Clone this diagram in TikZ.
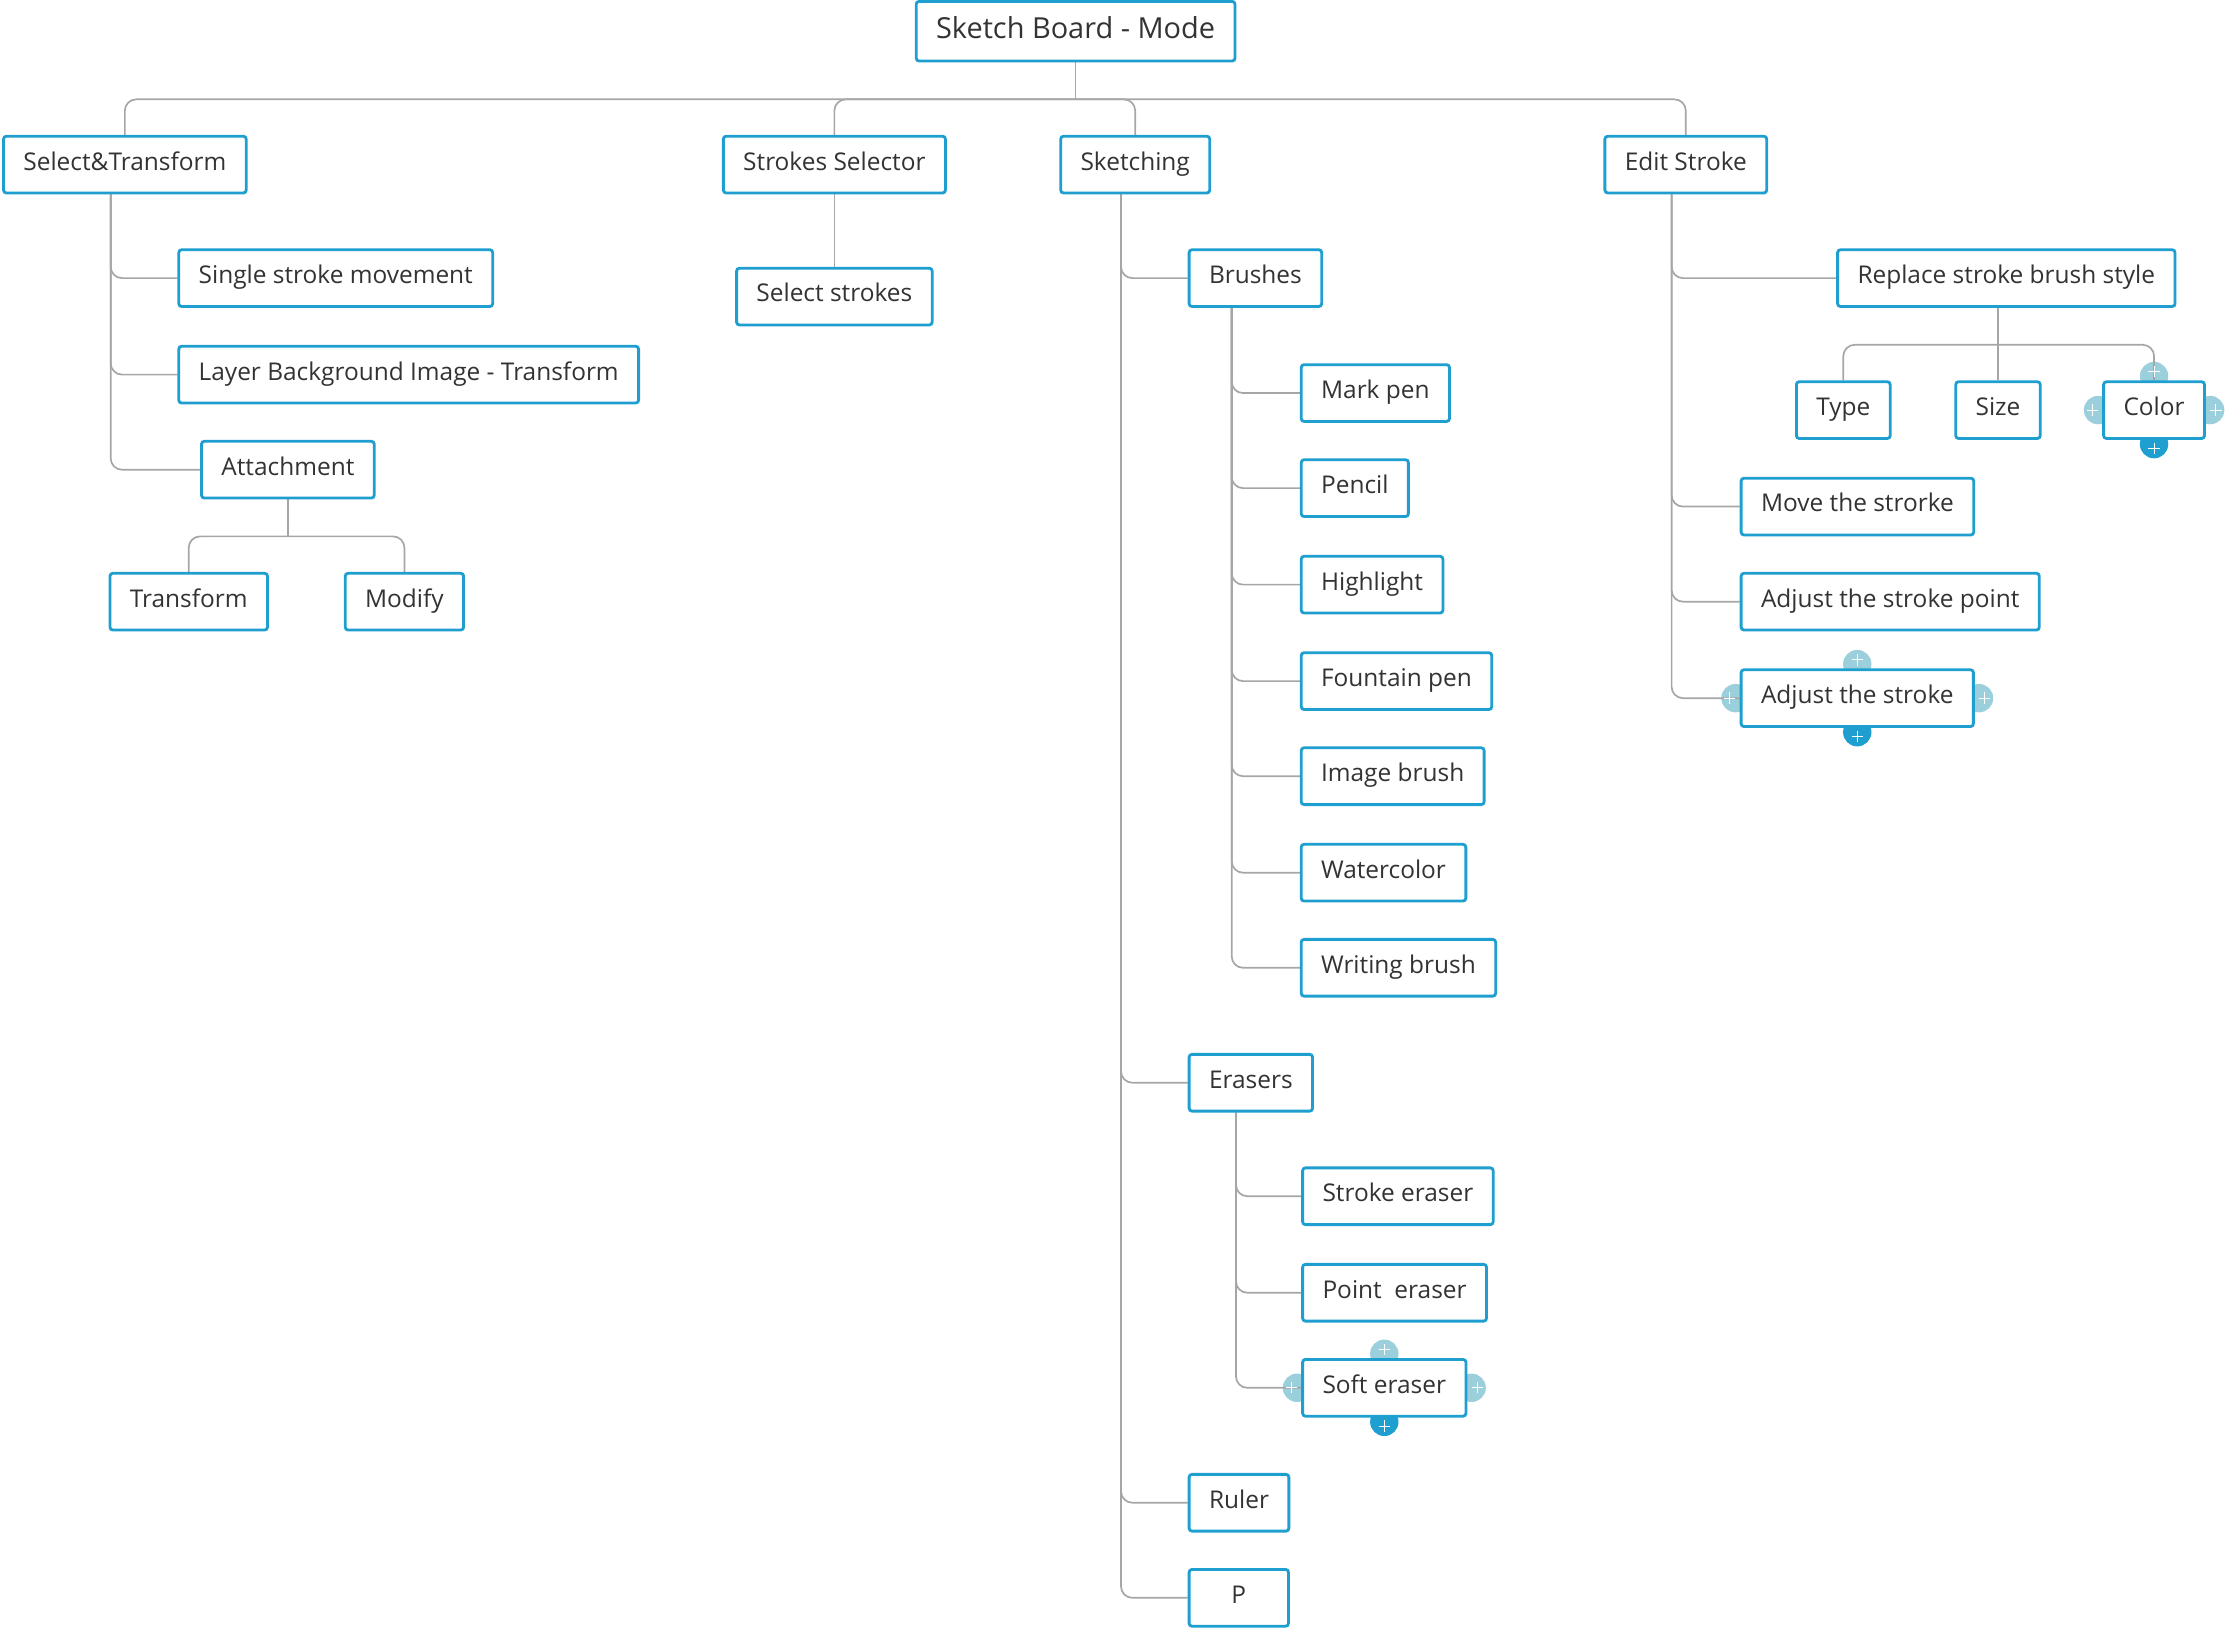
\documentclass[tikz,border=0pt]{standalone}
\usepackage{fontspec}
\setmainfont{Open Sans}
\usetikzlibrary{positioning}
\usetikzlibrary{backgrounds}
\definecolor{boxblue}{HTML}{1E9FD0}
\definecolor{pluslight}{HTML}{9ACFDB}
\definecolor{linegray}{HTML}{A6A6A6}
\newcommand{\plusmark}[1]{%
  \begin{scope}[on background layer]
    \fill[pluslight] (#1.north) ++(0,-3) circle (10);
    \fill[pluslight] (#1.west) ++(-3,0) circle (10);
    \fill[pluslight] (#1.east) ++(3,0) circle (10);
    \fill[boxblue] (#1.south) ++(0,3) circle (10);
  \end{scope}
  \draw[white, thick] (#1.north) ++(-4,-6) -- ++(8,0) ++(-4,-4) -- ++(0,8);
  \draw[white, thick] (#1.west) ++(-11,0) -- ++(8,0) ++(-4,-4) -- ++(0,8);
  \draw[white, thick] (#1.east) ++(3,0) -- ++(8,0) ++(-4,-4) -- ++(0,8);
  \draw[white, thick] (#1.south) ++(-4,6) -- ++(8,0) ++(-4,-4) -- ++(0,8);
}
\begin{document}
\begin{tikzpicture}[x=0.5mm, y=-0.5mm,
        box/.style = {draw=boxblue, line width=1mm, rounded corners=1mm, fill=white,
            minimum height=20mm, inner xsep=7mm, text height=6mm, text depth=2.2mm,
            font=\fontsize{24.5}{28}\selectfont, text=black!80},
        kid/.style = {box, anchor=west},
        link/.style = {draw=linegray, line width=0.6mm, rounded corners=4mm}]
    \useasboundingbox (0,0) rectangle (1568,1148);
    % top level
    \node[box, font=\fontsize{29}{33}\selectfont, minimum height=21mm, text height=7.2mm, text depth=2.4mm] (mode) at (758,22) {Sketch Board - Mode};
    \node[box] (select) at (88,116) {Select\&Transform};
    \node[box] (strokes) at (588,116) {Strokes Selector};
    \node[box] (sketch) at (800,116) {Sketching};
    \node[box] (edit) at (1188,116) {Edit Stroke};
    % select & transform
    \node[kid] (single) at (125,196) {Single stroke movement};
    \node[kid] (layer) at (125,264) {Layer Background Image - Transform};
    \node[kid] (attach) at (141,331) {Attachment};
    \node[box] (transf) at (133,424) {Transform};
    \node[box] (modify) at (285,424) {Modify};
    % strokes selector
    \node[box] (selstrokes) at (588,209) {Select strokes};
    % sketching
    \node[kid] (brushes) at (837,196) {Brushes};
    \node[kid] (erasers) at (837,763) {Erasers};
    \node[kid, minimum width=35mm] (ruler) at (837,1059) {Ruler};
    \node[kid, minimum width=35mm] (p) at (837,1126) {P};
    \node[kid] (mark) at (916,277) {Mark pen};
    \node[kid] (pencil) at (916,344) {Pencil};
    \node[kid] (highlight) at (916,412) {Highlight};
    \node[kid] (fountain) at (916,480) {Fountain pen};
    \node[kid] (image) at (916,547) {Image brush};
    \node[kid] (water) at (916,615) {Watercolor};
    \node[kid] (writing) at (916,682) {Writing brush};
    \node[kid] (strokeer) at (917,843) {Stroke eraser};
    \node[kid] (pointer) at (917,911) {Point\ \ eraser};
    \node[kid] (softer) at (917,978) {Soft eraser};
    % edit stroke
    \node[kid] (replace) at (1294,196) {Replace stroke brush style};
    \node[box] (type) at (1299,289) {Type};
    \node[box] (size) at (1408,289) {Size};
    \node[box] (color) at (1518,289) {Color};
    \node[kid] (move) at (1226,357) {Move the strorke};
    \node[kid] (adjpoint) at (1226,424) {Adjust the stroke point};
    \node[kid] (adjust) at (1226,492) {Adjust the stroke};
    \plusmark{color}
    \plusmark{adjust}
    \plusmark{softer}
    % connectors
    \begin{scope}[on background layer]
    \draw[link] (mode.south) -- (758,70);
    \draw[link] (select.north) |- (758,70) -| (edit.north);
    \draw[link] (strokes.north) |- (758,70) -| (sketch.north);
    \draw[link] (strokes.south) -- (selstrokes.north);
    \foreach \k in {single,layer,attach}
        \draw[link] (78,137) |- (\k.west);
    \draw[link] (transf.north) |- (attach.south |- 0,378) -| (modify.north);
    \draw[link] (attach.south) -- (attach.south |- 0,378);
    \foreach \k in {brushes,erasers,ruler,p}
        \draw[link] (790,137) |- (\k.west);
    \foreach \k in {mark,pencil,highlight,fountain,image,water,writing}
        \draw[link] (868,217) |- (\k.west);
    \foreach \k in {strokeer,pointer,softer}
        \draw[link] (871,784) |- (\k.west);
    \foreach \k in {replace,move,adjpoint,adjust}
        \draw[link] (1178,137) |- (\k.west);
    \draw[link] (type.north) |- (size.north |- 0,243) -| (color.north);
    \draw[link] (size.north |- replace.south) -- (size.north);
    \end{scope}
\end{tikzpicture}
\end{document}
